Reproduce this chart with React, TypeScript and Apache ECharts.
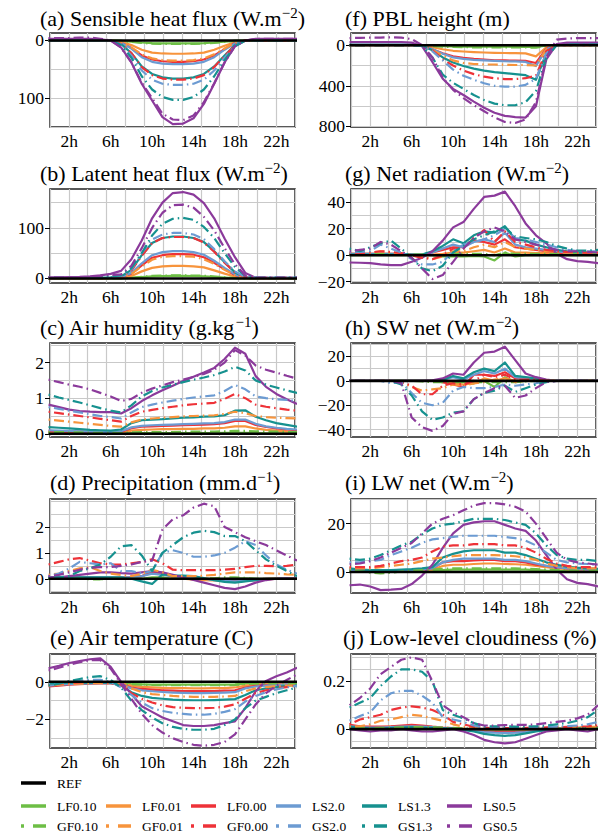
import { useEffect, useRef } from 'react';
import * as echarts from 'echarts';

const hours = [0, 1, 2, 3, 4, 5, 6, 7, 8, 9, 10, 11, 12, 13, 14, 15, 16, 17, 18, 19, 20, 21, 22, 23, 24];
const hourTicks = [2, 6, 10, 14, 18, 22];
const seriesNames = ['LF0.10', 'LF0.01', 'LF0.00', 'LS2.0', 'LS1.3', 'LS0.5', 'GF0.10', 'GF0.01', 'GF0.00', 'GS2.0', 'GS1.3', 'GS0.5'];
const seriesColors = ['#6DBE45', '#F7943C', '#EE3238', '#6C9BD2', '#16918F', '#8B3A9B', '#6DBE45', '#F7943C', '#EE3238', '#6C9BD2', '#16918F', '#8B3A9B'];
const seriesDashed = [false, false, false, false, false, false, true, true, true, true, true, true];
const refName = 'REF';
const refValues = [0, 0, 0, 0, 0, 0, 0, 0, 0, 0, 0, 0, 0, 0, 0, 0, 0, 0, 0, 0, 0, 0, 0, 0, 0];

// (a) Sensible heat flux (decrease, plotted downward)
const sensibleHeat = [
  [0, 0, 0, 0, 0, 0, 0, 0.5, 2, 3.5, 4.5, 5, 5, 5, 5, 4.5, 3.5, 2, 0.6, 0, 0, 0, 0, 0, 0],
  [0, 0, 0, 0, 0, 0, 0, 2.3, 8, 16, 21, 22.5, 23, 23, 22.5, 21, 16, 9, 3, 0, 0, 0, 0, 0, 0],
  [0, 0, 0, 0, 0, 0, 0, 3.7, 13, 26, 33, 36, 37, 37, 36, 33, 26, 15, 4.4, 0, 0, 0, 0, 0, 0],
  [0, 0, 0, 0, 0, 0, 0, 4, 14, 29, 37, 40, 41, 41, 40, 37, 29, 16, 5, 0, 0, 0, 0, 0, 0],
  [0, 0, 0, 0, 0, 0, 0, 6, 22, 45, 58, 64, 66, 66, 64, 58, 45, 26, 8, 0, 0, 0, 0, 0, 0],
  [-3, -3, -3, -3, -3, -2, 0, 12, 38, 75, 104, 133, 145, 144, 135, 110, 75, 38, 10, 0, -3, -3, -3, -3, -3],
  [0, 0, 0, 0, 0, 0, 0, 0.6, 2.4, 4.2, 5.4, 6, 6, 6, 6, 5.4, 4.2, 2.4, 0.7, 0, 0, 0, 0, 0, 0],
  [0, 0, 0, 0, 0, 0, 0, 3.5, 12, 24, 31, 34, 35, 35, 34, 31, 24, 14, 4, 0, 0, 0, 0, 0, 0],
  [0, 0, 0, 0, 0, 0, 0, 6, 22, 46, 60, 66, 68, 68, 66, 60, 46, 27, 8, 0, 0, 0, 0, 0, 0],
  [0, 0, 0, 0, 0, 0, 0, 7, 26, 52, 68, 75, 77, 77, 75, 68, 52, 30, 9, 0, 0, 0, 0, 0, 0],
  [0, 0, 0, 0, 0, 0, 0, 8, 30, 62, 85, 98, 103, 103, 98, 85, 62, 34, 10, 0, 0, 0, 0, 0, 0],
  [-4, -4, -4, -5, -5, -3, 0, 12, 38, 73, 100, 127, 137, 138, 130, 107, 74, 38, 10, 0, -3, -3, -3, -3, -3],
];

// (b) Latent heat flux
const latentHeat = [
  [0, 0, 0, 0, 0, 0, 0, 0.3, 1, 2.8, 4.3, 4.9, 5, 5, 4.9, 4.4, 3.3, 1.9, 0.8, 0.2, 0, 0, 0, 0, 0],
  [0.2, 0.2, 0.2, 0.2, 0.3, 0.3, 0.5, 1.3, 5, 14, 21, 24, 25, 25, 24, 22, 16, 9.5, 3.8, 0.8, 0.2, 0.2, 0.2, 0.2, 0.2],
  [0.5, 0.5, 0.5, 0.5, 0.6, 0.8, 1, 2.4, 9.6, 26, 41, 46, 48, 48, 47, 42, 31, 18, 7, 1.4, 0.5, 0.5, 0.5, 0.5, 0.5],
  [0.6, 0.6, 0.6, 0.6, 0.7, 0.9, 1.2, 2.7, 11, 30, 46, 52, 54, 54, 52, 47, 35, 21, 8, 1.6, 0.6, 0.6, 0.6, 0.6, 0.6],
  [1, 1, 1, 1, 1.2, 1.5, 2, 4, 17, 46, 70, 80, 83, 83, 80, 72, 54, 32, 12, 2.5, 1, 1, 1, 1, 1],
  [2, 2, 2.5, 3, 4, 6, 9, 15, 38, 75, 119, 150, 169, 171, 166, 149, 119, 79, 42, 11, 1.3, 1, 1, 1, 1],
  [0, 0, 0, 0, 0, 0, 0, 0.3, 1.2, 3.3, 5.1, 5.8, 6, 6, 5.8, 5.2, 3.9, 2.3, 0.9, 0.2, 0, 0, 0, 0, 0],
  [0.4, 0.4, 0.4, 0.4, 0.5, 0.7, 1, 2.2, 8.8, 24, 37, 43, 44, 44, 43, 38, 29, 17, 6.6, 1.3, 0.4, 0.4, 0.4, 0.4, 0.4],
  [1, 1, 1, 1, 1.2, 1.5, 2, 4, 16, 45, 70, 80, 82, 82, 80, 71, 53, 31, 12, 2.5, 1, 1, 1, 1, 1],
  [1, 1, 1, 1, 1.2, 1.6, 2.2, 4.5, 18, 50, 77, 87, 90, 90, 87, 78, 58, 34, 14, 2.7, 1, 1, 1, 1, 1],
  [1.5, 1.5, 1.5, 1.5, 2, 2.5, 4, 6, 20, 50, 85, 108, 118, 120, 116, 102, 80, 50, 23, 5, 1.5, 1.5, 1.5, 1.5, 1.5],
  [2, 2, 2, 2.5, 3, 5, 7, 8, 25, 60, 100, 130, 145, 146, 140, 122, 95, 60, 28, 6, 1.5, 1.5, 1.5, 1.5, 1.5],
];

// (c) Air humidity
const airHumidity = [
  [0.01, 0.01, 0.01, 0.01, 0.01, 0.01, 0.01, 0.01, 0.02, 0.02, 0.02, 0.02, 0.02, 0.02, 0.02, 0.02, 0.02, 0.025, 0.03, 0.03, 0.02, 0.015, 0.01, 0.01, 0.01],
  [0.05, 0.05, 0.04, 0.04, 0.03, 0.03, 0.03, 0.04, 0.09, 0.11, 0.12, 0.13, 0.13, 0.14, 0.14, 0.15, 0.15, 0.17, 0.21, 0.21, 0.15, 0.11, 0.09, 0.07, 0.06],
  [0.08, 0.07, 0.06, 0.06, 0.05, 0.05, 0.04, 0.06, 0.16, 0.2, 0.21, 0.22, 0.23, 0.24, 0.25, 0.26, 0.27, 0.3, 0.36, 0.36, 0.25, 0.19, 0.15, 0.12, 0.1],
  [0.1, 0.09, 0.08, 0.07, 0.06, 0.05, 0.05, 0.07, 0.18, 0.22, 0.24, 0.25, 0.26, 0.27, 0.28, 0.29, 0.3, 0.33, 0.4, 0.4, 0.28, 0.21, 0.17, 0.14, 0.12],
  [0.19, 0.17, 0.15, 0.13, 0.11, 0.1, 0.09, 0.12, 0.3, 0.38, 0.4, 0.41, 0.43, 0.45, 0.46, 0.48, 0.49, 0.52, 0.65, 0.66, 0.48, 0.38, 0.3, 0.25, 0.2],
  [0.82, 0.75, 0.68, 0.64, 0.62, 0.61, 0.61, 0.57, 0.72, 0.92, 1.08, 1.22, 1.35, 1.48, 1.6, 1.72, 1.85, 2.1, 2.42, 2.25, 1.62, 1.32, 1.12, 0.97, 0.84],
  [0.05, 0.05, 0.04, 0.04, 0.03, 0.03, 0.03, 0.02, 0.04, 0.05, 0.05, 0.05, 0.05, 0.06, 0.06, 0.06, 0.06, 0.07, 0.08, 0.08, 0.07, 0.06, 0.06, 0.05, 0.05],
  [0.4, 0.37, 0.34, 0.31, 0.28, 0.25, 0.22, 0.2, 0.32, 0.4, 0.43, 0.45, 0.47, 0.49, 0.5, 0.51, 0.52, 0.56, 0.62, 0.58, 0.5, 0.47, 0.45, 0.44, 0.43],
  [0.62, 0.58, 0.54, 0.5, 0.46, 0.42, 0.38, 0.34, 0.5, 0.62, 0.67, 0.72, 0.76, 0.8, 0.83, 0.85, 0.87, 0.98, 1.12, 1.0, 0.82, 0.76, 0.72, 0.68, 0.65],
  [0.75, 0.7, 0.65, 0.6, 0.55, 0.5, 0.47, 0.43, 0.6, 0.75, 0.82, 0.88, 0.93, 0.98, 1.02, 1.05, 1.08, 1.2, 1.37, 1.25, 1.05, 1.0, 0.97, 0.95, 0.92],
  [1.1, 1.02, 0.95, 0.88, 0.8, 0.72, 0.65, 0.6, 0.8, 1.05, 1.2, 1.3, 1.38, 1.45, 1.52, 1.58, 1.65, 1.75, 1.88, 1.78, 1.5, 1.38, 1.3, 1.22, 1.15],
  [1.52, 1.45, 1.38, 1.32, 1.25, 1.15, 1.05, 0.92, 0.98, 1.15, 1.27, 1.36, 1.45, 1.52, 1.6, 1.68, 1.8, 2.0, 2.35, 2.2, 1.92, 1.8, 1.72, 1.63, 1.55],
];

// (d) Precipitation
const precipitation = [
  [0, 0, 0, 0, 0, 0, 0, 0, 0, 0, 0.05, 0.05, 0, 0, 0, 0, 0, 0, 0.02, 0.02, 0, 0, 0, 0, 0],
  [0.02, 0.02, 0.03, 0.03, 0.03, 0.03, 0.03, 0.03, 0.05, 0.1, 0.3, 0.2, 0.05, 0, -0.03, -0.05, -0.06, -0.08, -0.1, -0.08, -0.05, -0.03, 0, 0, 0],
  [0.05, 0.05, 0.05, 0.05, 0.05, 0.05, 0.05, 0.05, 0.05, 0.1, 0.25, 0.2, 0.1, 0.05, 0.03, 0, -0.02, -0.05, -0.05, -0.04, -0.02, 0, 0.02, 0.02, 0.03],
  [0.05, 0.05, 0.05, 0.05, 0.05, 0.05, 0.05, 0.05, 0.05, 0.1, 0.2, 0.15, 0.1, 0.05, 0.02, 0, -0.05, -0.08, -0.1, -0.08, -0.05, -0.02, 0, 0.02, 0.03],
  [0.05, 0.05, 0.05, 0.05, 0.05, 0.05, 0.05, 0.05, 0, -0.1, -0.2, 0.17, 0.13, 0.12, 0.1, 0.03, -0.05, -0.12, -0.15, -0.1, -0.05, 0, 0, 0.02, 0.02],
  [0.05, 0.05, 0.1, 0.15, 0.2, 0.25, 0.25, 0.22, 0.2, 0.25, 0.3, 0.25, 0.15, 0.05, -0.05, -0.15, -0.25, -0.35, -0.4, -0.3, -0.15, -0.05, 0, 0.02, 0.03],
  [0, 0, 0, 0, -0.02, -0.02, 0, 0, 0, 0, 0.02, 0.02, 0, 0, 0, 0, 0.02, 0.05, 0.05, 0.03, 0, 0, 0, 0, 0],
  [0.15, 0.2, 0.3, 0.4, 0.45, 0.3, 0.2, 0.15, 0.1, 0.2, 0.35, 0.25, 0.1, 0.1, 0.1, 0.12, 0.15, 0.2, 0.25, 0.25, 0.25, 0.22, 0.2, 0.17, 0.15],
  [0.55, 0.65, 0.75, 0.8, 0.7, 0.6, 0.55, 0.55, 0.6, 0.65, 0.75, 0.6, 0.35, 0.33, 0.33, 0.33, 0.33, 0.35, 0.38, 0.45, 0.5, 0.5, 0.48, 0.5, 0.55],
  [0.1, 0.2, 0.4, 0.65, 0.6, 0.55, 0.6, 0.3, 0.3, 0.2, 0.3, 1.0, 1.1, 1.0, 0.85, 0.85, 0.9, 1.0, 1.2, 1.45, 1.3, 0.9, 0.55, 0.35, 0.2],
  [0.05, 0.05, 0.1, 0.3, 0.4, 0.55, 0.85, 1.25, 1.3, 0.9, 0.3, 1.0, 1.3, 1.6, 1.78, 1.85, 1.8, 1.65, 1.65, 1.45, 1.1, 0.75, 0.5, 0.3, 0.1],
  [0.1, 0.15, 0.25, 0.35, 0.42, 0.45, 0.45, 0.5, 0.55, 0.65, 0.7, 1.9, 2.3, 2.45, 2.75, 2.9, 2.8, 2.0, 1.8, 1.6, 1.45, 1.3, 1.1, 0.9, 0.7],
];

// (e) Air temperature
const airTemperature = [
  [-0.05, -0.05, -0.05, -0.05, -0.05, -0.05, -0.05, -0.08, -0.12, -0.14, -0.15, -0.15, -0.15, -0.15, -0.15, -0.15, -0.15, -0.15, -0.14, -0.1, -0.07, -0.06, -0.05, -0.05, -0.05],
  [-0.15, -0.12, -0.1, -0.08, -0.07, -0.06, -0.06, -0.1, -0.2, -0.27, -0.3, -0.32, -0.33, -0.34, -0.35, -0.35, -0.34, -0.33, -0.3, -0.2, -0.15, -0.13, -0.12, -0.12, -0.12],
  [-0.25, -0.2, -0.15, -0.12, -0.1, -0.08, -0.08, -0.15, -0.3, -0.38, -0.42, -0.45, -0.47, -0.49, -0.5, -0.5, -0.49, -0.47, -0.45, -0.3, -0.22, -0.18, -0.16, -0.14, -0.13],
  [-0.2, -0.15, -0.12, -0.1, -0.08, -0.07, -0.07, -0.15, -0.35, -0.45, -0.5, -0.54, -0.57, -0.59, -0.6, -0.6, -0.59, -0.57, -0.55, -0.35, -0.25, -0.2, -0.17, -0.14, -0.12],
  [-0.1, -0.07, -0.05, -0.04, -0.04, -0.04, -0.05, -0.2, -0.55, -0.75, -0.85, -0.9, -0.95, -0.97, -0.98, -0.98, -0.97, -0.95, -0.92, -0.7, -0.45, -0.35, -0.28, -0.22, -0.15],
  [0.72, 0.85, 1.0, 1.1, 1.2, 1.25, 0.8, 0.0, -0.65, -1.3, -1.6, -1.9, -2.1, -2.3, -2.35, -2.35, -2.3, -2.2, -2.1, -1.4, -0.5, 0.05, 0.3, 0.5, 0.75],
  [-0.1, -0.08, -0.06, -0.05, -0.05, -0.05, -0.05, -0.08, -0.12, -0.15, -0.17, -0.18, -0.18, -0.18, -0.18, -0.18, -0.18, -0.18, -0.17, -0.12, -0.1, -0.08, -0.08, -0.08, -0.08],
  [-0.2, -0.15, -0.12, -0.1, -0.08, -0.07, -0.08, -0.15, -0.35, -0.55, -0.65, -0.7, -0.75, -0.78, -0.8, -0.8, -0.8, -0.78, -0.75, -0.5, -0.35, -0.28, -0.22, -0.2, -0.18],
  [-0.15, -0.1, -0.05, -0.03, 0, 0, -0.05, -0.2, -0.6, -0.9, -1.1, -1.25, -1.35, -1.38, -1.4, -1.4, -1.38, -1.32, -1.2, -0.9, -0.6, -0.45, -0.35, -0.28, -0.2],
  [-0.1, -0.05, 0.0, 0.05, 0.1, 0.1, 0.0, -0.3, -0.7, -1.1, -1.4, -1.55, -1.65, -1.7, -1.75, -1.75, -1.7, -1.6, -1.45, -1.05, -0.75, -0.55, -0.4, -0.3, -0.2],
  [-0.2, -0.1, 0.05, 0.15, 0.25, 0.3, 0.1, -0.3, -1.0, -1.5, -1.9, -2.2, -2.4, -2.5, -2.55, -2.55, -2.5, -2.3, -2.0, -1.4, -1.0, -0.8, -0.6, -0.45, -0.3],
  [0.6, 0.75, 0.9, 1.05, 1.15, 1.15, 0.7, -0.1, -0.9, -1.7, -2.3, -2.7, -3.0, -3.2, -3.35, -3.4, -3.35, -3.2, -2.8, -2.0, -1.2, -0.6, -0.2, 0.1, 0.4],
];

// (f) PBL height (decrease, plotted downward)
const pblHeight = [
  [0, 0, 0, 0, 0, 0, 0, 0, 5, 10, 12, 14, 15, 15, 15, 15, 16, 16, 18, 5, 0, 0, 0, 0, 0],
  [0, 0, 0, 0, 0, 0, 0, 2, 20, 40, 55, 62, 68, 72, 75, 77, 78, 80, 110, 20, 0, 0, 0, 0, 0],
  [0, 0, 0, 0, 0, 0, 0, 3, 40, 80, 110, 125, 135, 142, 148, 150, 152, 155, 175, 35, -5, -5, -5, -5, -5],
  [0, 0, 0, 0, 0, 0, 0, 3, 40, 85, 120, 135, 145, 150, 155, 158, 160, 165, 205, 40, -5, -5, -5, -5, -5],
  [-5, -5, -5, -5, -5, -5, -5, 5, 50, 120, 170, 205, 230, 250, 265, 275, 285, 295, 340, 80, 0, -10, -10, -10, -10],
  [-30, -30, -30, -30, -30, -30, -25, 10, 165, 330, 430, 490, 555, 615, 665, 695, 708, 712, 600, 140, -10, -25, -25, -25, -25],
  [0, 0, 0, 0, 0, 0, 0, 0, 8, 15, 18, 20, 21, 22, 22, 22, 22, 22, 25, 5, 0, 0, 0, 0, 0],
  [0, 0, 0, 0, 0, 0, 0, 3, 50, 100, 150, 175, 185, 190, 190, 192, 195, 195, 200, 40, 0, 0, 0, 0, 0],
  [0, 0, 0, 0, 0, 0, 0, 5, 50, 140, 200, 250, 285, 310, 325, 333, 333, 325, 300, 60, 0, 0, 0, 0, 0],
  [0, 0, 0, 0, 0, 0, 0, 5, 60, 150, 240, 300, 340, 375, 400, 408, 408, 390, 330, 80, 0, 0, 0, 0, 0],
  [0, 0, 0, 0, 0, 0, 0, 5, 120, 290, 370, 430, 490, 540, 575, 591, 591, 560, 450, 120, 0, -5, -5, -5, -5],
  [-70, -72, -75, -75, -78, -75, -60, 0, 120, 320, 440, 520, 590, 650, 710, 755, 765, 730, 560, 120, -55, -65, -70, -70, -70],
];

// (g) Net radiation
const netRadiation = [
  [0, 0, 0, 0, 0, 0, 0, 0, 0, -1, -1, -1, -0.5, -1, -4, 2, -1, 0, 0, 0, 0, 0, 0, 0, 0],
  [1, 1, 1, 1, 1, 1, 0.5, 0.5, 0.5, 1, 2, 2, 3, 4, 2, 5, 2, 2, 1.5, 1.5, 1, 1, 1, 1, 1],
  [1, 1, 1, 1, 1, 1, 0.5, 0.5, 2, 4, 6, 6, 11, 10, 8, 12, 6, 5, 4, 3, 2, 1.5, 1.5, 1.5, 1.5],
  [1, 1, 1, 1, 1, 1, 0.5, 0.5, 2, 5, 8, 6, 10, 12, 10, 17, 8, 6, 5, 4, 3, 2, 2, 2, 2],
  [0.5, 0.5, 0.5, 0.5, 0.5, 0.5, 0.5, 0.5, 3, 7, 12, 9, 15, 18, 17, 22, 12, 11, 8, 6, 4, 3, 2, 2, 1.5],
  [-5.5, -5.7, -6, -7, -7.5, -7.5, -5, -2, 3, 11, 21, 25, 35, 44, 45, 48, 37, 24, 15, 9, 1, -3, -4.5, -5, -6],
  [1, 1, 1, 1, 1, 1, 0.5, 0.5, 0, 0, 1, 1, 1, 1, 0, 2, 1, 1, 1, 1, 1, 1, 1, 1, 1],
  [2, 2, 2, 3, 2, 1, 0, -1, -3, -1, 3, 3, 6, 8, 6, 10, 6, 5, 4, 3, 2.5, 2, 2, 2, 2],
  [1.5, 1.5, 2, 3, 2.5, 1.5, 0, -2, -3, 0, 5, 5, 13, 19, 10, 18, 10, 8, 6, 4, 3, 2.5, 2, 2, 2],
  [2, 2.5, 3, 8, 5, 2, -3, -7, -7, -5, 3, 8, 10, 12, 15, 20, 13, 12, 10, 8, 6, 4, 3, 3, 3],
  [5, 3, 6, 9, 11, 5, -2, -10, -12, -8, 2, 7, 12, 15, 18, 21, 14, 13, 12, 10, 7, 5, 3.5, 3.5, 4],
  [3, 4, 5, 10, 8, 3, -2, -10, -18, -15, -5, 5, 13, 18, 21, 18, 12, 10, 8, 6, 4, 3, 3, 2.5, 2],
];

// (h) SW net
const swNet = [
  [0, 0, 0, 0, 0, 0, 0, 0, 0, 0, -1, -1, -2, 0, -5, 3, -1, 0, 0, 0, 0, 0, 0, 0, 0],
  [0, 0, 0, 0, 0, 0, 0, 0, 0, -1, -2, -3, -2, 2, 0, 2, 0, 0, 0, 0, 0, 0, 0, 0, 0],
  [0, 0, 0, 0, 0, 0, 0, 0, 0, -1, -3, -5, 5, 5, 4, 7, 2, 2, 1, 0, 0, 0, 0, 0, 0],
  [0, 0, 0, 0, 0, 0, 0, 0, 0, 1, 3, 1, 5, 8, 6, 10, 3, 2, 1, 0, 0, 0, 0, 0, 0],
  [0, 0, 0, 0, 0, 0, 0, 0, 0, 1, 4, 2, 7, 10, 8, 15, 4, 3, 2, 0.5, 0, 0, 0, 0, 0],
  [0, 0, 0, 0, 0, 0, 0, 0, 0.5, 2, 6, 5, 15, 23, 24, 28, 17, 6, 3, 1, 0, 0, 0, 0, 0],
  [0, 0, 0, 0, 0, 0, 0, -0.5, -1, -1, -1, -1, -1, -1, -1, -1, -1, -0.5, 0, 0, 0, 0, 0, 0, 0],
  [0, 0, 0, 0, 0, -1, -5, -8, -7, -6, -3, -4, -2, -1, 1, 2, -1, 0, 0, 0, 0, 0, 0, 0, 0],
  [0, 0, 0, 0, 0, -1, -4, -11, -11, -4, -2, -3, 0, 5, 3, 5, 1, 1, 1, 0, 0, 0, 0, 0, 0],
  [0, 0, 0, 0, -2, -1, -10, -18, -20, -18, -8, -5, -6, -6, -5, -3, -4, -3, -2, -0.5, 0, 0, 0, 0, 0],
  [0, 0, 0, 0, 0, -3, -12, -25, -32, -30, -26, -25, -15, -10, -8, -4, -9, -6, -3, -1, 0, 0, 0, 0, 0],
  [0, 0, 0, 0, 0, -2, -30, -38, -41, -37, -27, -25, -15, -10, -6, -4, -14, -12, -6, -1, 0, 0, 0, 0, 0],
];

// (i) LW net
const lwNet = [
  [0.3, 0.3, 0.2, 0.2, 0.2, 0.2, 0.3, 0.4, 0.5, 0.8, 1, 1, 1, 1.1, 1, 1, 1, 1, 0.8, 0.6, 0.5, 0.4, 0.4, 0.3, 0.3],
  [0.6, 0.5, 0.5, 0.5, 0.5, 0.5, 0.6, 0.8, 1, 2.5, 3, 3, 3.3, 3.5, 3.5, 3.3, 3.2, 3, 2.5, 2, 1.5, 1.2, 1, 0.8, 0.7],
  [1, 0.9, 0.8, 0.8, 0.8, 0.8, 0.9, 1.1, 1.5, 4, 4.5, 4.5, 4.8, 5, 5, 4.5, 4.5, 4, 3, 2.5, 2, 1.5, 1.2, 1, 1],
  [0.8, 0.7, 0.6, 0.6, 0.6, 0.7, 0.8, 1, 1.5, 4, 5, 5.5, 5.5, 5.5, 5.5, 5, 5, 4.5, 3.5, 2.5, 2, 1.5, 1.2, 1, 1],
  [1.5, 1, 0.8, 0.8, 0.8, 1, 1.2, 1.5, 2, 6, 7.5, 8.5, 9, 9, 9, 8, 8, 7, 5.5, 4, 3, 2.2, 1.8, 1.5, 1.3],
  [-5.5, -5.2, -6, -7.5, -7.3, -7, -5, -1.5, 3, 10, 16, 19.5, 20.5, 21, 21, 19.5, 18, 17, 13, 7, 1, -3, -4.5, -5, -6],
  [0.5, 0.3, -0.3, -0.6, -0.3, 0.2, 0.5, 0.8, 1, 1.3, 1.5, 1.5, 1.5, 1.5, 1.5, 1.5, 1.5, 1.4, 1.2, 1, 0.8, 0.7, 0.6, 0.5, 0.5],
  [1.5, 1.5, 1.5, 2, 2.5, 3, 3.5, 4.5, 5.5, 6, 6.5, 7, 7, 7, 7, 6.8, 6.5, 6, 5, 3.5, 2.5, 2, 1.5, 1.5, 1.5],
  [2, 2, 2, 2.5, 3.5, 4.5, 5, 6, 8.5, 10.5, 11, 11, 11.5, 11.5, 11.5, 11, 11, 10, 8, 5.5, 3.5, 2.5, 2, 2, 2],
  [4, 4, 4.5, 5, 7, 8.5, 10, 12, 13.5, 14, 14.5, 15, 15, 15, 15, 14.5, 14, 13, 11, 8, 5, 4, 3.5, 3.3, 3],
  [5.5, 5, 5.5, 7, 9, 11, 12.5, 15.5, 18, 19.5, 20, 21, 22, 22, 22, 21.5, 20.5, 19.5, 16, 11, 7, 5.5, 5, 5, 4.5],
  [3.2, 3.5, 4.5, 6, 8, 10, 12, 16, 20, 22, 23.5, 25.5, 27.5, 28.5, 28.5, 28, 27, 25, 20, 14, 8, 5, 4, 3.5, 3],
];

// (j) Low-level cloudiness
const lowCloud = [
  [0.005, 0.003, 0, -0.003, -0.002, 0, 0.002, 0.003, 0.003, 0.003, 0.002, 0, -0.002, -0.003, -0.003, -0.003, -0.003, -0.002, -0.001, 0, 0.001, 0.002, 0.003, 0.003, 0.003],
  [0.015, 0.01, 0.008, 0.008, 0.01, 0.012, 0.012, 0.01, 0.008, 0.005, 0.003, 0, -0.005, -0.008, -0.01, -0.01, -0.01, -0.008, -0.005, -0.002, 0, 0.003, 0.005, 0.006, 0.006],
  [0.018, 0.012, 0.01, 0.01, 0.012, 0.015, 0.018, 0.015, 0.01, 0.006, 0.004, 0, -0.006, -0.01, -0.012, -0.013, -0.013, -0.012, -0.008, -0.003, 0, 0.003, 0.005, 0.006, 0.007],
  [0.012, 0.008, 0.006, 0.006, 0.008, 0.01, 0.012, 0.01, 0.008, 0.005, 0.003, -0.002, -0.008, -0.012, -0.015, -0.016, -0.015, -0.012, -0.008, -0.003, 0, 0.003, 0.004, 0.005, 0.006],
  [0.01, 0.005, 0.002, 0.002, 0.004, 0.006, 0.008, 0.006, 0.005, 0.003, 0.002, -0.003, -0.01, -0.02, -0.025, -0.028, -0.025, -0.018, -0.01, -0.004, 0, 0.002, 0.003, 0.004, 0.005],
  [0, -0.005, -0.01, -0.005, -0.005, 0, -0.005, -0.01, -0.01, -0.005, 0, -0.01, -0.025, -0.045, -0.055, -0.06, -0.055, -0.04, -0.025, -0.01, -0.005, 0, -0.005, -0.01, 0],
  [0.005, 0.004, 0.004, 0.005, 0.006, 0.007, 0.008, 0.008, 0.007, 0.006, 0.005, 0.003, 0.001, 0, 0, 0, 0, 0, 0.001, 0.002, 0.003, 0.004, 0.004, 0.005, 0.005],
  [0.01, 0.012, 0.02, 0.035, 0.04, 0.05, 0.06, 0.055, 0.045, 0.035, 0.02, 0.01, 0.005, 0.002, 0.002, 0.002, 0.002, 0.003, 0.004, 0.005, 0.006, 0.007, 0.008, 0.009, 0.01],
  [0.02, 0.04, 0.05, 0.06, 0.08, 0.09, 0.095, 0.09, 0.08, 0.06, 0.03, 0.02, 0.01, 0.005, 0.004, 0.004, 0.004, 0.005, 0.006, 0.007, 0.008, 0.009, 0.01, 0.012, 0.015],
  [0.035, 0.055, 0.07, 0.12, 0.15, 0.16, 0.16, 0.14, 0.11, 0.05, 0.04, 0.03, 0.015, 0.005, 0.004, 0.004, 0.004, 0.005, 0.006, 0.008, 0.01, 0.012, 0.015, 0.02, 0.03],
  [0.09, 0.11, 0.13, 0.18, 0.22, 0.25, 0.25, 0.24, 0.2, 0.08, 0.06, 0.045, 0.025, 0.012, 0.012, 0.012, 0.01, 0.012, 0.012, 0.015, 0.02, 0.025, 0.035, 0.05, 0.08],
  [0.1, 0.13, 0.17, 0.23, 0.26, 0.29, 0.3, 0.29, 0.2, 0.1, 0.07, 0.05, 0.025, 0.015, 0.015, 0.017, 0.018, 0.018, 0.02, 0.025, 0.03, 0.035, 0.045, 0.06, 0.1],
];

type Panel = {
  title: string; sup: string; tail: string; values: number[][];
  min: number; max: number; inverse: boolean; gridStep: number; labels: number[];
  col: number; row: number; titleLeft: number;
};

const panels: Panel[] = [
  { title: '(a) Sensible heat flux (W.m', sup: '−2', tail: ')', values: sensibleHeat, min: -13, max: 150, inverse: true, gridStep: 50, labels: [0, 100], col: 0, row: 0, titleLeft: 40 },
  { title: '(b) Latent heat flux (W.m', sup: '−2', tail: ')', values: latentHeat, min: -9, max: 177, inverse: false, gridStep: 50, labels: [0, 100], col: 0, row: 1, titleLeft: 40 },
  { title: '(c) Air humidity (g.kg', sup: '−1', tail: ')', values: airHumidity, min: -0.09, max: 2.55, inverse: false, gridStep: 0.5, labels: [0, 1, 2], col: 0, row: 2, titleLeft: 40 },
  { title: '(d) Precipitation (mm.d', sup: '−1', tail: ')', values: precipitation, min: -0.55, max: 3.08, inverse: false, gridStep: 0.5, labels: [0, 1, 2], col: 0, row: 3, titleLeft: 50 },
  { title: '(e) Air temperature (C)', sup: '', tail: '', values: airTemperature, min: -3.52, max: 1.48, inverse: false, gridStep: 1, labels: [-2, 0], col: 0, row: 4, titleLeft: 50 },
  { title: '(f) PBL height (m)', sup: '', tail: '', values: pblHeight, min: -120, max: 805, inverse: true, gridStep: 200, labels: [0, 400, 800], col: 1, row: 0, titleLeft: 345 },
  { title: '(g) Net radiation (W.m', sup: '−2', tail: ')', values: netRadiation, min: -21, max: 50, inverse: false, gridStep: 10, labels: [-20, 0, 20, 40], col: 1, row: 1, titleLeft: 345 },
  { title: '(h) SW net (W.m', sup: '−2', tail: ')', values: swNet, min: -46, max: 31, inverse: false, gridStep: 10, labels: [-40, -20, 0, 20], col: 1, row: 2, titleLeft: 345 },
  { title: '(i) LW net (W.m', sup: '−2', tail: ')', values: lwNet, min: -8.7, max: 30.2, inverse: false, gridStep: 5, labels: [0, 20], col: 1, row: 3, titleLeft: 345 },
  { title: '(j) Low-level cloudiness (%)', sup: '', tail: '', values: lowCloud, min: -0.079, max: 0.314, inverse: false, gridStep: 0.05, labels: [0, 0.2], col: 1, row: 4, titleLeft: 343 },
];

const FONT = 'Times New Roman';
const GRID_COLOR = '#C9C9C9';
const DOT_DASH_PLOT = [1.5, 4, 10, 4];
const DOT_DASH_LEGEND = [3, 9, 13, 9];

function gridValues(p: Panel): number[] {
  const out: number[] = [];
  const start = Math.ceil(p.min / p.gridStep - 1e-9);
  const end = Math.floor(p.max / p.gridStep + 1e-9);
  for (let k = start; k <= end; k++) out.push(Number((k * p.gridStep).toFixed(6)));
  return out;
}

function fmtLabel(v: number): string {
  return String(Number(v.toFixed(6))).replace('-', '−');
}

function buildOption() {
  const colLeft = [50, 351];
  const rowTop = [33, 189, 343, 499, 654];
  const titleTop = [5.5, 160, 314, 469, 624];
  const plotW = 245;
  const plotH = 94;
  const grids: any[] = [];
  const xAxes: any[] = [];
  const yAxes: any[] = [];
  const titles: any[] = [];
  const series: any[] = [];

  panels.forEach((p, i) => {
    grids.push({ left: colLeft[p.col], top: rowTop[p.row], width: plotW, height: plotH, show: true, borderColor: '#222', borderWidth: 1.5, backgroundColor: 'transparent' });
    const axisFont = { fontFamily: FONT, fontSize: 17.5, color: '#000', fontWeight: 'normal' };
    xAxes.push({
      gridIndex: i, type: 'value', position: 'bottom', min: 0.14, max: 23.8,
      axisLine: { show: false, onZero: false }, axisTick: { show: false }, splitLine: { show: false },
      axisLabel: { ...axisFont, margin: 5, customValues: hourTicks, formatter: (v: number) => (hourTicks.includes(Number(v.toFixed(6))) ? `${Number(v.toFixed(6))}h` : '') },
    });
    xAxes.push({
      gridIndex: i, type: 'value', position: 'bottom', min: 0, max: 13, interval: 1,
      axisLine: { show: false, onZero: false }, axisTick: { show: false }, axisLabel: { show: false },
      splitLine: { show: true, lineStyle: { color: GRID_COLOR, width: 1.2 } },
    });
    const gv = gridValues(p);
    const splitNumber = Math.max(1, Math.round((p.max - p.min) / p.gridStep));
    yAxes.push({
      gridIndex: i, type: 'value', position: 'left', min: p.min, max: p.max, inverse: p.inverse, splitNumber,
      axisLine: { show: false, onZero: false }, axisTick: { show: false, customValues: gv }, axisLabel: { show: false },
      splitLine: { show: true, lineStyle: { color: GRID_COLOR, width: 1.2 } },
    });
    yAxes.push({
      gridIndex: i, type: 'value', position: 'left', min: p.min, max: p.max, inverse: p.inverse, splitNumber,
      axisLine: { show: false, onZero: false },
      axisTick: { show: true, customValues: p.labels, length: 5, lineStyle: { color: '#000', width: 1 } },
      axisLabel: { ...axisFont, margin: 6, customValues: p.labels, formatter: (v: number) => (p.labels.some((l) => Math.abs(l - v) < 1e-9) ? fmtLabel(v) : '') },
      splitLine: { show: false },
    });
    const text = p.sup ? `{t|${p.title}}{s|${p.sup}}{t|${p.tail}}` : `{t|${p.title}}`;
    titles.push({
      text, left: p.titleLeft, top: titleTop[p.row], padding: 0,
      textStyle: {
        fontFamily: FONT, fontWeight: 'normal', fontSize: 22, color: '#000',
        rich: {
          t: { fontFamily: FONT, fontWeight: 'normal', fontSize: 22, lineHeight: 26, color: '#000' },
          s: { fontFamily: FONT, fontWeight: 'normal', fontSize: 15, lineHeight: 18, color: '#000', verticalAlign: 'top' },
        },
      },
    });
    p.values.forEach((row, k) => {
      series.push({
        type: 'line', name: seriesNames[k], xAxisIndex: 2 * i, yAxisIndex: 2 * i,
        data: hours.map((h, j) => [h, row[j]]), symbol: 'none', silent: true, clip: true, z: 3,
        lineStyle: { color: seriesColors[k], width: 2.2, type: seriesDashed[k] ? DOT_DASH_PLOT : 'solid', cap: 'butt', join: 'round' },
        itemStyle: { color: seriesColors[k] },
      });
    });
    series.push({
      type: 'line', name: refName, xAxisIndex: 2 * i, yAxisIndex: 2 * i,
      data: hours.map((h, j) => [h, refValues[j]]), symbol: 'none', silent: true, clip: true, z: 4,
      lineStyle: { color: '#000', width: 2.6 }, itemStyle: { color: '#000' },
    });
  });

  const legendCols = [21, 106, 191, 276, 362, 447];
  const legendRows = [783, 806, 826];
  const graphics: any[] = [];
  const addItem = (x: number, y: number, name: string, color: string, dashed: boolean) => {
    graphics.push({ type: 'line', silent: true, shape: { x1: x, y1: y, x2: x + 25, y2: y }, style: { stroke: color, lineWidth: 3.5, lineDash: dashed ? DOT_DASH_LEGEND : null, lineCap: 'butt' } });
    graphics.push({ type: 'text', silent: true, x: x + 36, y, style: { text: name, fontFamily: FONT, fontSize: 13.5, fill: '#000', align: 'left', verticalAlign: 'middle' } });
  };
  addItem(legendCols[0], legendRows[0], refName, '#000', false);
  seriesNames.forEach((n, k) => addItem(legendCols[k % 6], legendRows[1 + Math.floor(k / 6)], n, seriesColors[k], seriesDashed[k]));

  return { animation: false, backgroundColor: '#fff', title: titles, grid: grids, xAxis: xAxes, yAxis: yAxes, series, graphic: graphics };
}

export default function App() {
  const ref = useRef<HTMLDivElement>(null);
  useEffect(() => {
    if (!ref.current) return;
    const chart = echarts.init(ref.current, null, { renderer: 'svg' });
    chart.setOption(buildOption() as any);
    return () => chart.dispose();
  }, []);
  return <div ref={ref} style={{ position: 'fixed', left: 0, top: 0, width: 601, height: 837, background: '#fff' }} />;
}
